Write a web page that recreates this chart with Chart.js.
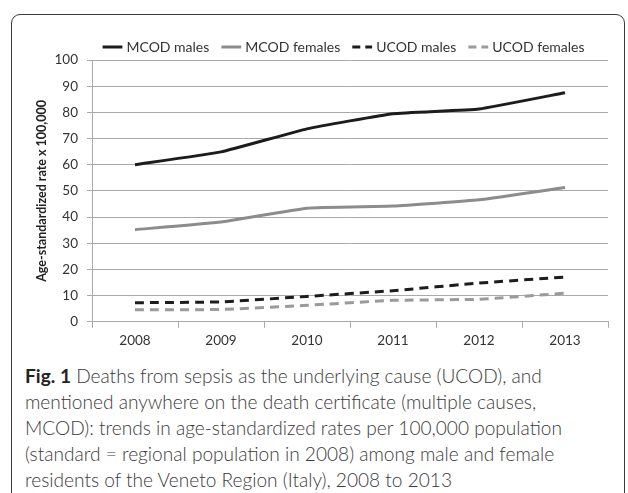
<!DOCTYPE html>
<html>
<head>
<meta charset="utf-8">
<script src="https://cdn.jsdelivr.net/npm/chart.js@4.4.1/dist/chart.umd.min.js"></script>
<style>
    body { margin: 0; background: #fff; width: 628px; height: 493px; overflow: hidden; position: relative; }
    #marco {
        position: absolute; left: 11px; top: 14px; width: 614px; height: 520px;
        border: 1.4px solid #3a3a3a; border-radius: 9px; box-sizing: border-box;
    }
    #contenedor { position: absolute; left: 0; top: 0; width: 628px; height: 358px; }
    #leyenda {
        position: absolute; left: 25px; top: 363px; width: 600px;
        font-family: Lato, sans-serif; font-weight: 300; font-size: 19.1px; line-height: 26px;
        color: #3a3a3a; white-space: nowrap;
    }
    #leyenda b { color: #222; font-weight: bold; }
</style>
</head>
<body>
<div id="marco"></div>
<div id="contenedor"><canvas id="grafico"></canvas></div>
<div id="leyenda"><b>Fig. 1</b> Deaths from sepsis as the underlying cause (UCOD), and<br>mentioned anywhere on the death certificate (multiple causes,<br>MCOD): trends in age-standardized rates per 100,000 population<br>(standard = regional population in 2008) among male and female<br>residents of the Veneto Region (Italy), 2008 to 2013</div>
<script>
const anos = ['2008', '2009', '2010', '2011', '2012', '2013'];
const mcodHomens = [60.0, 64.9, 73.7, 79.5, 81.3, 87.5];
const mcodMulheres = [35.2, 38.1, 43.4, 44.2, 46.6, 51.3];
const ucodHomens = [7.3, 7.6, 9.7, 11.9, 14.8, 17.1];
const ucodMulheres = [4.6, 4.7, 6.3, 8.2, 8.6, 10.9];
const ticksY = [0, 10, 20, 30, 40, 50, 60, 70, 80, 90, 100];

const corGrade = '#a9a9a9';
const corTexto = '#333333';

// ajusta a altura e a posição da legenda
const ajusteLegenda = {
    id: 'ajusteLegenda',
    beforeInit(chart) {
        const fitOriginal = chart.legend.fit;
        chart.legend.fit = function() {
            fitOriginal.call(this);
            this.height = 33;
        };
    },
    afterLayout(chart) {
        const area = chart.chartArea;
        const lg = chart.legend;
        lg.left = area.left - 6;
        lg.right = area.right - 4;
        lg.top -= 2;
    }
};

function serie(label, data, cor, tracejado) {
    return {
        label: label,
        data: data,
        borderColor: cor,
        backgroundColor: cor,
        borderWidth: 3,
        borderDash: tracejado ? [9, 6] : [],
        pointRadius: 0,
        pointHoverRadius: 0,
        tension: 0.12,
        fill: false
    };
}

const ctx = document.getElementById('grafico').getContext('2d');
window.chartSepse = new Chart(ctx, {
    type: 'line',
    data: {
        labels: anos,
        datasets: [
            serie('MCOD males', mcodHomens, '#1c1c1c', false),
            serie('MCOD females', mcodMulheres, '#8c8c8c', false),
            serie('UCOD males', ucodHomens, '#1c1c1c', true),
            serie('UCOD females', ucodMulheres, '#9a9a9a', true)
        ]
    },
    options: {
        responsive: true,
        maintainAspectRatio: false,
        animation: false,
        layout: { padding: { left: 30, right: 20, top: 27, bottom: 4 } },
        plugins: {
            legend: {
                display: true,
                position: 'top',
                labels: {
                    usePointStyle: true,
                    pointStyle: 'line',
                    boxWidth: 25,
                    padding: 15,
                    color: corTexto,
                    font: { family: 'Lato, sans-serif', size: 14 },
                    generateLabels(chart) {
                        const itens = Chart.defaults.plugins.legend.labels.generateLabels(chart);
                        itens.forEach(item => {
                            const ds = chart.data.datasets[item.datasetIndex];
                            item.lineDash = ds.borderDash.length ? [8, 5] : [];
                            item.lineWidth = 3;
                            item.strokeStyle = ds.borderColor;
                        });
                        return itens;
                    }
                }
            },
            tooltip: { enabled: false }
        },
        scales: {
            x: {
                offset: true,
                grid: {
                    offset: true,
                    drawOnChartArea: false,
                    drawTicks: true,
                    tickLength: 6,
                    color: corGrade
                },
                border: { display: true, color: corGrade, width: 1 },
                ticks: {
                    color: corTexto,
                    padding: 5,
                    maxRotation: 0,
                    font: { family: 'Lato, sans-serif', size: 13.5 }
                }
            },
            y: {
                min: 0,
                max: 100,
                afterFit(escala) { escala.width = 62; },
                afterBuildTicks(escala) { escala.ticks = ticksY.map(v => ({ value: v })); },
                grid: {
                    color: corGrade,
                    drawTicks: true,
                    tickLength: 5
                },
                border: { display: true, color: corGrade, width: 1 },
                ticks: {
                    color: corTexto,
                    padding: 9,
                    font: { family: 'Lato, sans-serif', size: 13.5 }
                },
                title: {
                    display: true,
                    text: 'Age-standardized rate x 100,000',
                    color: '#222',
                    padding: { top: 4, bottom: 4 },
                    font: { family: 'Lato, sans-serif', size: 12.5, weight: 'bold' }
                }
            }
        }
    },
    plugins: [ajusteLegenda]
});
</script>
</body>
</html>
